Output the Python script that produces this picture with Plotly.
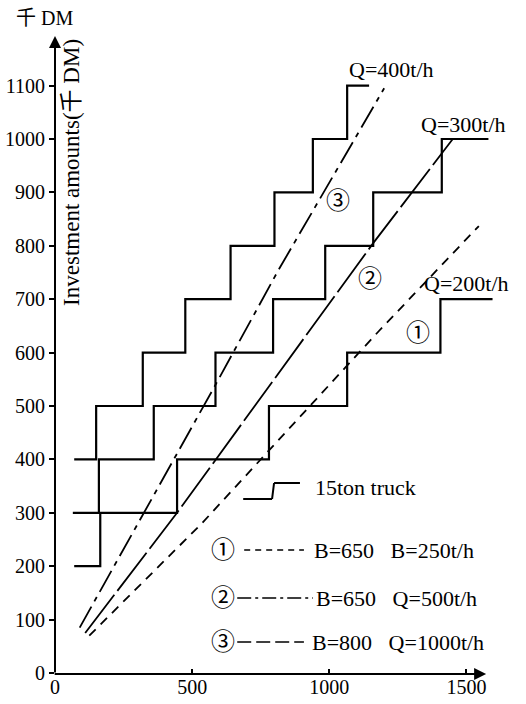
import plotly.graph_objects as go

# Truck fleet cost staircases (thousand DM) for three throughputs
s400_x = [70, 150, 320, 475, 640, 800, 940, 1065, 1145]
s400_y = [400, 500, 600, 700, 800, 900, 1000, 1100]
s300_x = [65, 160, 360, 585, 795, 985, 1160, 1410, 1580]
s300_y = [300, 400, 500, 600, 700, 800, 900, 1000]
s200_x = [70, 165, 445, 780, 1065, 1405, 1595]
s200_y = [200, 300, 400, 500, 600, 700]

# Belt conveyor investment lines
belt1_x = [125, 535, 1180, 1545]
belt1_y = [70, 280, 640, 837]
belt2_x = [110, 445, 1160, 1450]
belt2_y = [75, 300, 805, 1000]
belt3_x = [90, 580, 815, 1200]
belt3_y = [85, 535, 755, 1095]

x_ticks = [0, 500, 1000, 1500]
y_ticks = list(range(0, 1200, 100))

W, H = 526, 704
L, R, T, B = 53, 5, 30, 31
PW, PH = W - L - R, H - T - B

SERIF = "Liberation Serif, Noto Sans CJK SC, serif"
SP = "\u00a0" * 3


def px(x, y):
    """Pixel position on the page -> paper coordinates."""
    return (x - L) / PW, (H - B - y) / PH


def step_points(xs, levels):
    return xs, levels + [levels[-1]]


fig = go.Figure()

for xs, ys in [(s400_x, s400_y), (s300_x, s300_y), (s200_x, s200_y)]:
    sx, sy = step_points(xs, ys)
    fig.add_trace(go.Scatter(x=sx, y=sy, mode="lines", line_shape="hv",
                             line=dict(color="black", width=2.2),
                             hoverinfo="skip"))

for xs, ys, dash in [(belt1_x, belt1_y, "9px,7px"),
                     (belt2_x, belt2_y, "48px,5px"),
                     (belt3_x, belt3_y, "24px,6px,5px,6px")]:
    fig.add_trace(go.Scatter(x=xs, y=ys, mode="lines",
                             line=dict(color="black", width=1.8, dash=dash),
                             hoverinfo="skip"))

annotations = []


def text(x, y, s, size=22, xanchor="left", angle=0):
    xp, yp = px(x, y)
    annotations.append(dict(x=xp, y=yp, xref="paper", yref="paper", text=s,
                            showarrow=False, xanchor=xanchor, yanchor="middle",
                            textangle=angle,
                            font=dict(family=SERIF, size=size, color="black")))


# Axis arrows
x0p, y0p = px(53, 674)
xe, _ = px(486, 674)
annotations.append(dict(x=xe, y=y0p, xref="paper", yref="paper", ax=-(486 - 53), ay=0,
                        showarrow=True, arrowhead=2, arrowsize=1.2, arrowwidth=2,
                        arrowcolor="black", text=""))
_, ye = px(53, 36)
annotations.append(dict(x=x0p, y=ye, xref="paper", yref="paper", ax=0, ay=674 - 36,
                        showarrow=True, arrowhead=2, arrowsize=1.2, arrowwidth=2,
                        arrowcolor="black", text=""))

text(12, 18, "千 DM", size=20)
text(69, 172, "Investment amounts(千 DM)", size=23, xanchor="center", angle=-90)

text(346, 70, "Q=400t/h")
text(419, 125, "Q=300t/h")
text(422, 283, "Q=200t/h")
text(337, 201, "③", size=24, xanchor="center")
text(369, 279, "②", size=24, xanchor="center")
text(418, 333, "①", size=24, xanchor="center")

# Legend
shapes = []


def seg(x1, y1, x2, y2, dash="solid", width=2):
    a, b = px(x1, y1)
    c, d = px(x2, y2)
    shapes.append(dict(type="line", xref="paper", yref="paper", x0=a, y0=b, x1=c, y1=d,
                       line=dict(color="black", width=width, dash=dash)))


seg(242, 499, 271, 499)
seg(271, 499, 273, 483)
seg(273, 483, 299, 483)
text(312, 487, "15ton truck")

text(222, 550, "①", size=24, xanchor="center")
seg(243, 550, 303, 550, dash="6px,5px", width=1.5)
text(311, 550, "B=650" + SP + "B=250t/h")

text(222, 598, "②", size=24, xanchor="center")
seg(236, 598, 312, 598, dash="14px,4px,3px,4px", width=1.5)
text(313, 598, "B=650" + SP + "Q=500t/h")

text(222, 642, "③", size=24, xanchor="center")
seg(236, 642, 303, 642, dash="14px,5px", width=1.5)
text(309, 642, "B=800" + SP + "Q=1000t/h")

fig.update_layout(
    width=W, height=H,
    margin=dict(l=L, r=R, t=T, b=B),
    paper_bgcolor="white", plot_bgcolor="white",
    showlegend=False,
    annotations=annotations,
    shapes=shapes,
    xaxis=dict(range=[0, PW / 0.2755], tickvals=x_ticks, showgrid=False,
               zeroline=False, showline=False, ticks="inside", ticklen=4,
               tickcolor="black", tickwidth=1.5,
               tickfont=dict(family=SERIF, size=20, color="black")),
    yaxis=dict(range=[0, PH / 0.534], tickvals=y_ticks, showgrid=False,
               zeroline=False, showline=False, ticks="outside", ticklen=5,
               tickcolor="black", tickwidth=1.5,
               tickfont=dict(family=SERIF, size=20, color="black")),
)

fig.write_html("out.html")
